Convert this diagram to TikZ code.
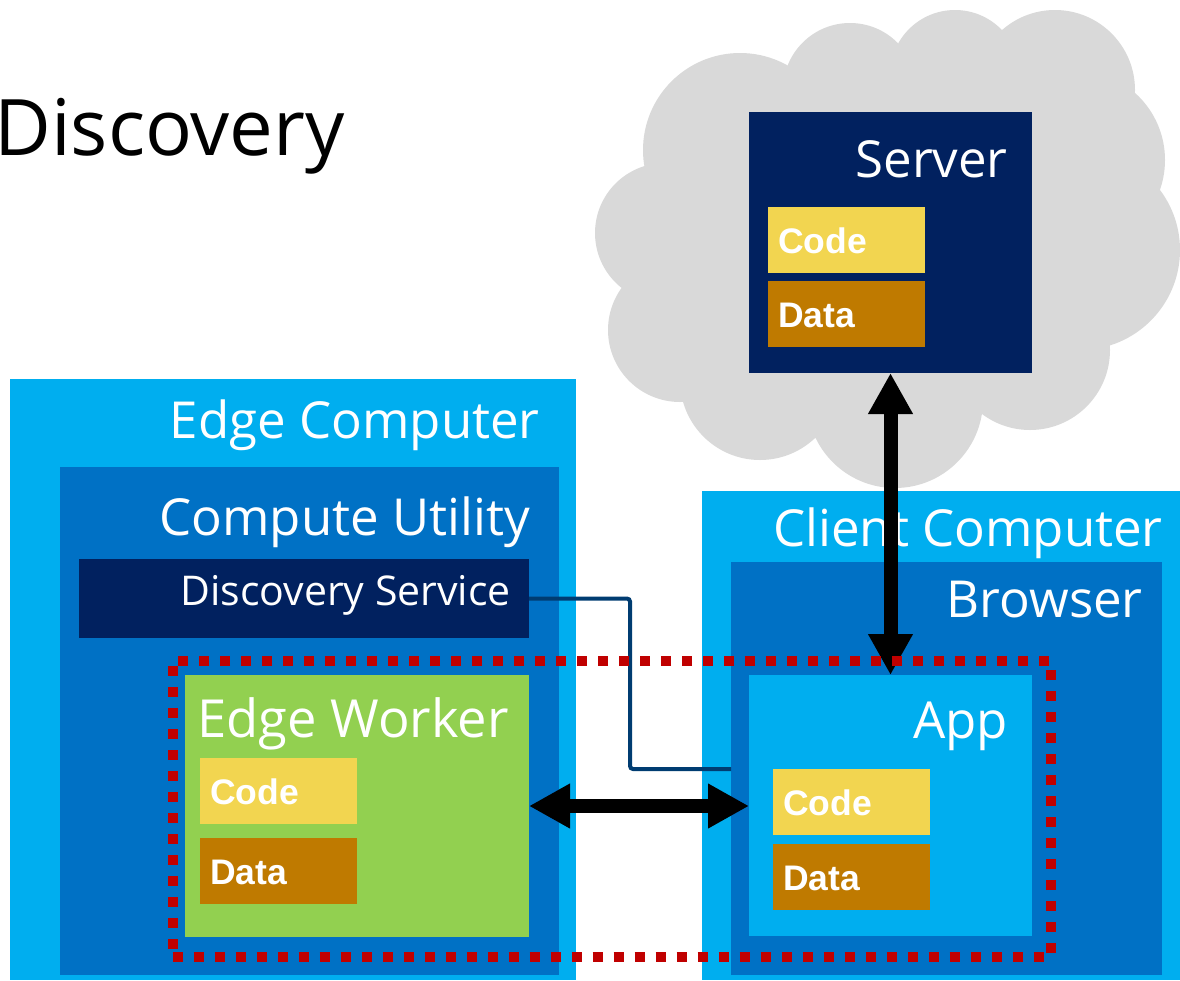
\documentclass[tikz,border=0pt]{standalone}
\usepackage{fontspec}
\setmainfont{Open Sans}
\newfontfamily\arialf{Liberation Sans}
\usetikzlibrary{arrows.meta,calc}
\definecolor{lblue}{HTML}{00AEEF}
\definecolor{mblue}{HTML}{0071C5}
\definecolor{navy}{HTML}{01215F}
\definecolor{wgreen}{HTML}{92D050}
\definecolor{codey}{HTML}{F2D550}
\definecolor{datab}{HTML}{BF7A00}
\definecolor{dred}{HTML}{C00000}
\definecolor{connb}{HTML}{003C71}
\definecolor{cloudg}{HTML}{D9D9D9}
\begin{document}
\begin{tikzpicture}[x=1pt,y=-1pt,
  box/.style={inner sep=0pt,outer sep=0pt,anchor=north west,draw=none},
  lbl/.style={text=white,inner sep=0pt,anchor=base east,font=\fontsize{51}{51}\selectfont},
  cd/.style={box,fill=codey,minimum width=157pt,minimum height=66pt},
  dt/.style={box,fill=datab,minimum width=157pt,minimum height=66pt},
  cdtext/.style={text=white,inner sep=0pt,anchor=west,font=\arialf\bfseries\fontsize{35.5}{35.5}\selectfont},
  dbl/.style={line width=14pt,{Triangle[length=41pt,width=42pt]}-{Triangle[length=41pt,width=42pt]}},
  conn/.style={draw=connb,line width=4pt,rounded corners=3pt},
  grp/.style={draw=dred,line width=10pt,dash pattern=on 10pt off 11pt,fill=none,inner sep=0pt,outer sep=0pt,anchor=north west}
]
\useasboundingbox (0,0) rectangle (1180,980);
% title
\node[inner sep=0pt,anchor=base west,font=\fontsize{78}{78}\selectfont] (title) at (-6,155) {Discovery};
% cloud
\fill[cloudg] (665,233) circle (70pt) (680,330) circle (72pt) (760,380) circle (80pt)
  (895,400) circle (88pt) (1030,350) circle (80pt) (1080,250) circle (100pt)
  (1075,160) circle (90pt) (1055,90) circle (80pt) (955,75) circle (65pt)
  (850,90) circle (67pt) (740,150) circle (97pt);
\fill[cloudg] (700,130) rectangle (1070,400);
% server
\node[box,fill=navy,minimum width=283pt,minimum height=261pt] (server) at (749,112) {};
\node[lbl] (serverl) at (1008,177) {Server};
\node[cd] (scode) at (768,207) {};
\node[cdtext] at ($(scode.west)+(10,1)$) {Code};
\node[dt] (sdata) at (768,281) {};
\node[cdtext] at ($(sdata.west)+(10,1)$) {Data};
% edge computer
\node[box,fill=lblue,minimum width=566pt,minimum height=601pt] (edge) at (10,379) {};
\node[lbl] (edgel) at (540,438) {Edge Computer};
\node[box,fill=mblue,minimum width=499pt,minimum height=508pt] (cu) at (60,467) {};
\node[lbl] (cul) at (530,535) {Compute Utility};
\node[box,fill=navy,minimum width=450pt,minimum height=79pt] (ds) at (79,559) {};
\node[lbl,font=\fontsize{41}{41}\selectfont] (dsl) at (511,605) {Discovery Service};
\node[box,fill=wgreen,minimum width=344pt,minimum height=262pt] (ew) at (185,675) {};
\node[lbl,anchor=base west,font=\fontsize{52.5}{52.5}\selectfont] (ewl) at (197,737) {Edge Worker};
\node[cd] (ecode) at (200,758) {};
\node[cdtext] at ($(ecode.west)+(10,1)$) {Code};
\node[dt] (edata) at (200,838) {};
\node[cdtext] at ($(edata.west)+(10,1)$) {Data};
% client computer
\node[box,fill=lblue,minimum width=478pt,minimum height=489pt] (client) at (702,491) {};
\node[lbl] (clientl) at (1163,546) {Client Computer};
\node[box,fill=mblue,minimum width=431pt,minimum height=413pt] (browser) at (731,562) {};
\node[lbl] (browserl) at (1143,617) {Browser};
\node[box,fill=lblue,minimum width=283pt,minimum height=261pt] (app) at (749,675) {};
\node[lbl] (appl) at (1008,738) {App};
\node[cd] (acode) at (773,769) {};
\node[cdtext] at ($(acode.west)+(10,1)$) {Code};
\node[dt] (adata) at (773,844) {};
\node[cdtext] at ($(adata.west)+(10,1)$) {Data};
% connectors
\coordinate (dsend) at (731,769);
\draw[conn] (ds.east) -| ($(ds.east)!0.5!(dsend)$) |- (dsend);
\draw[dbl] (ew.east) -- (ew.east -| app.west);
\draw[dbl] (server.south) -- (app.north);
% group
\node[grp,minimum width=878pt,minimum height=296.5pt] (group) at (172.5,660.5) {};
\end{tikzpicture}
\end{document}
